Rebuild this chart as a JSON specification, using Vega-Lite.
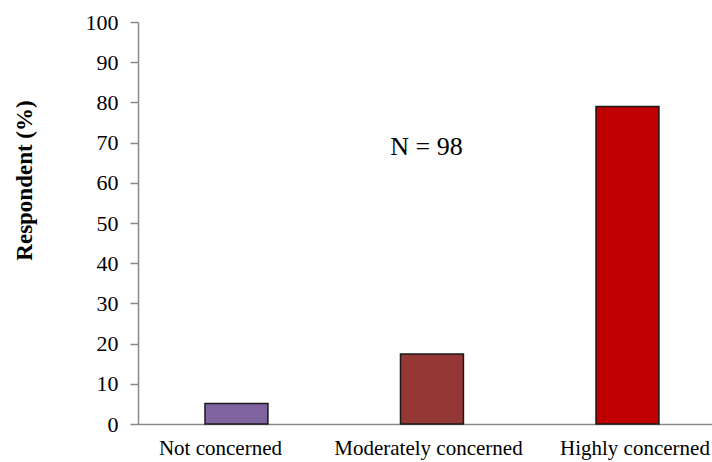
{
  "$schema": "https://vega.github.io/schema/vega-lite/v6.json",
  "width": 574,
  "height": 402,
  "autosize": {"type": "none"},
  "padding": {"left": 138, "top": 22, "right": 0, "bottom": 38},
  "background": "white",
  "config": {
    "view": {"stroke": null},
    "font": "Liberation Serif"
  },
  "datasets": {
    "bars": [
      {"category": "Not concerned", "percent": 5.1},
      {"category": "Moderately concerned", "percent": 17.4},
      {"category": "Highly concerned", "percent": 79.0}
    ],
    "note": [
      {"category": "Moderately concerned", "y": 68.9, "label": "N = 98"}
    ]
  },
  "layer": [
    {
      "data": {"name": "bars"},
      "mark": {"type": "bar", "stroke": "#1a1a1a", "strokeWidth": 1.5},
      "encoding": {
        "x": {
          "field": "category",
          "type": "nominal",
          "sort": null,
          "scale": {"paddingInner": 0.678, "paddingOuter": 0.307, "align": 0.558},
          "axis": {
            "title": null,
            "labelAngle": 0,
            "labelFont": "Liberation Serif",
            "labelFontSize": 21,
            "labelColor": "black",
            "labelPadding": 13,
            "ticks": false,
            "domainColor": "#8a8a8a",
            "domainWidth": 1.5,
            "labelLimit": 400,
            "labelOffset": {"expr": "datum.value === 'Not concerned' ? -16 : (datum.value === 'Moderately concerned' ? -3.5 : 7.5)"}
          }
        },
        "y": {
          "field": "percent",
          "type": "quantitative",
          "scale": {"domain": [0, 100], "nice": false},
          "axis": {
            "title": "Respondent (%)",
            "titleFont": "Liberation Serif",
            "titleFontSize": 23,
            "titleFontWeight": "bold",
            "titleColor": "black",
            "titleAngle": -90,
            "titleBaseline": "middle",
            "titleX": -114,
            "titleY": 158,
            "values": [0, 10, 20, 30, 40, 50, 60, 70, 80, 90, 100],
            "labelFont": "Liberation Serif",
            "labelFontSize": 22,
            "labelColor": "black",
            "labelPadding": 12,
            "tickSize": 8,
            "tickColor": "#8a8a8a",
            "tickWidth": 1.5,
            "domainColor": "#8a8a8a",
            "domainWidth": 1.5,
            "grid": false
          }
        },
        "color": {
          "field": "category",
          "type": "nominal",
          "scale": {
            "domain": ["Not concerned", "Moderately concerned", "Highly concerned"],
            "range": ["#8064A2", "#953735", "#C00000"]
          },
          "legend": null
        }
      }
    },
    {
      "data": {"name": "note"},
      "mark": {"type": "text", "font": "Liberation Serif", "fontSize": 26, "color": "black", "dx": -5.5, "baseline": "middle", "align": "center"},
      "encoding": {
        "x": {"field": "category", "type": "nominal", "sort": null},
        "y": {"field": "y", "type": "quantitative"},
        "text": {"field": "label"}
      }
    }
  ]
}
